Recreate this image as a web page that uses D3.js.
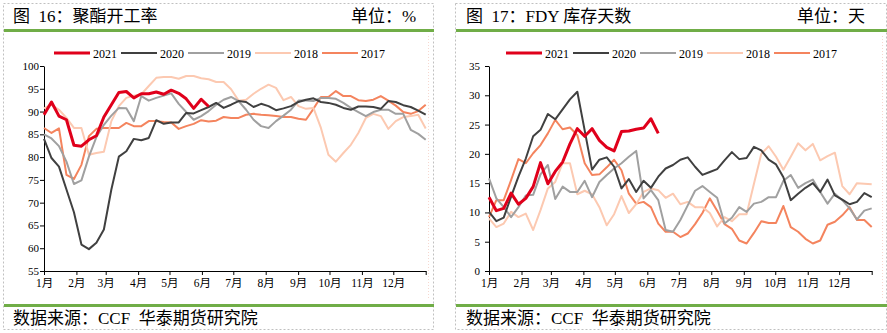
<!DOCTYPE html>
<html>
<head>
<meta charset="utf-8">
<script src="https://cdn.jsdelivr.net/npm/d3@7"></script>
<style>
  body { margin: 0; background: #fff; }
  svg { display: block; }
  text { font-family: "Liberation Serif", "Noto Sans CJK SC", serif; }
</style>
</head>
<body>
<svg width="887" height="333"></svg>
<script>
// Data
var years = ['2021', '2020', '2019', '2018', '2017'];
var monthLabels = ['1月', '2月', '3月', '4月', '5月', '6月', '7月', '8月', '9月', '10月', '11月', '12月'];

// 聚酯开工率 (%), weekly
var rate2021 = [89.3, 92.1, 89.0, 88.2, 82.6, 82.4, 83.8, 84.7, 88.8, 91.5, 94.2, 94.4, 93.0, 93.9, 93.9, 94.3, 93.8, 94.7, 94.0, 92.8, 90.7, 92.7, 91.1];
var rate2020 = [84.0, 79.8, 77.9, 72.9, 67.9, 60.8, 59.8, 61.2, 64.1, 72.9, 80.1, 81.3, 84.0, 83.7, 84.2, 88.1, 87.3, 87.6, 87.6, 89.7, 89.6, 90.3, 91.0, 91.9, 90.8, 91.5, 92.3, 92.1, 91.0, 91.7, 91.2, 90.3, 90.7, 91.2, 92.1, 92.6, 92.9, 92.1, 91.9, 91.5, 90.8, 90.4, 91.1, 91.1, 91.0, 90.6, 92.3, 92.1, 91.4, 91.0, 90.2, 89.3];
var rate2019 = [85.0, 84.1, 82.4, 79.0, 74.1, 74.9, 80.1, 84.4, 87.1, 89.1, 90.8, 90.7, 87.9, 93.4, 92.4, 93.0, 93.5, 94.0, 91.7, 89.9, 88.2, 89.0, 90.1, 91.5, 92.6, 93.2, 92.3, 90.4, 88.2, 86.8, 86.4, 87.9, 89.1, 90.4, 92.4, 92.4, 92.3, 93.0, 93.0, 92.8, 91.9, 90.8, 89.9, 89.0, 89.9, 90.4, 90.4, 89.5, 89.5, 86.0, 85.1, 83.8];
var rate2018 = [90.7, 91.5, 90.4, 88.6, 86.4, 86.4, 80.5, 80.9, 81.2, 87.9, 91.2, 93.0, 93.5, 93.8, 95.6, 97.4, 97.6, 97.6, 97.2, 97.8, 97.8, 97.3, 97.1, 96.5, 96.5, 94.9, 92.4, 92.6, 93.9, 95.0, 95.9, 95.2, 92.5, 93.2, 91.2, 90.6, 90.8, 86.4, 80.5, 79.0, 80.9, 82.7, 85.3, 88.6, 89.5, 89.0, 86.2, 87.9, 88.8, 89.0, 89.3, 86.3];
var rate2017 = [86.4, 85.3, 86.3, 76.1, 75.2, 78.3, 84.6, 86.2, 86.4, 86.4, 86.4, 87.5, 86.8, 86.8, 87.9, 87.9, 87.7, 87.6, 86.2, 86.8, 87.3, 88.1, 87.8, 88.0, 88.8, 88.6, 88.6, 89.3, 89.5, 89.3, 89.2, 89.0, 88.8, 88.8, 88.4, 88.2, 90.6, 93.2, 93.2, 94.5, 93.4, 93.4, 92.5, 92.3, 92.6, 93.4, 92.4, 91.3, 89.9, 89.5, 90.1, 91.5];
var rateTicks = [55, 60, 65, 70, 75, 80, 85, 90, 95, 100];

// FDY 库存天数 (天), weekly
var fdy2021 = [12.6, 10.3, 10.7, 13.3, 11.4, 12.4, 14.4, 18.5, 14.9, 17.0, 18.6, 21.7, 24.3, 23.0, 24.3, 22.3, 21.1, 20.5, 23.8, 23.9, 24.2, 24.4, 26.0, 23.5];
var fdy2020 = [10.1, 8.5, 9.1, 12.7, 16.1, 19.2, 23.0, 24.1, 26.8, 25.9, 27.6, 29.3, 30.6, 24.0, 17.3, 19.0, 19.4, 17.8, 14.1, 15.7, 13.5, 15.4, 14.2, 16.1, 17.5, 18.1, 19.0, 19.4, 17.8, 16.4, 16.9, 17.4, 18.9, 20.3, 19.1, 19.3, 21.2, 20.6, 19.0, 18.2, 16.0, 12.1, 13.2, 14.2, 15.0, 13.5, 15.6, 12.9, 12.2, 11.4, 11.8, 13.3, 12.6];
var fdy2019 = [15.8, 12.4, 10.9, 9.2, 10.9, 12.9, 13.0, 16.5, 18.1, 12.3, 14.4, 13.5, 13.5, 15.4, 12.6, 15.2, 16.4, 17.5, 18.4, 19.5, 20.5, 12.4, 13.8, 12.1, 7.0, 6.7, 8.7, 11.2, 13.7, 14.5, 13.5, 12.5, 8.1, 9.1, 10.9, 10.1, 11.5, 11.8, 12.6, 12.6, 15.4, 16.4, 14.2, 15.0, 15.6, 13.5, 11.5, 13.2, 12.1, 10.7, 8.8, 10.3, 10.7];
var fdy2018 = [9.0, 7.5, 8.1, 10.1, 9.2, 9.8, 7.0, 10.4, 14.1, 15.2, 18.4, 18.4, 13.1, 13.7, 13.1, 10.9, 7.8, 9.7, 12.8, 9.9, 11.4, 13.5, 14.1, 13.8, 12.5, 13.2, 11.4, 11.8, 10.9, 10.9, 9.9, 7.6, 9.2, 8.5, 9.7, 9.7, 14.9, 20.0, 21.3, 19.5, 17.3, 19.5, 21.8, 20.6, 21.7, 18.9, 19.6, 20.2, 14.5, 13.1, 15.0, 14.9, 14.8];
var fdy2017 = [9.2, 12.1, 12.1, 15.5, 19.1, 18.4, 20.1, 21.5, 23.5, 25.8, 24.2, 24.5, 23.2, 18.4, 16.4, 16.5, 17.7, 19.0, 17.2, 13.2, 11.5, 11.8, 10.9, 8.1, 6.7, 6.7, 5.8, 6.4, 8.0, 9.9, 12.4, 10.3, 8.0, 7.2, 5.2, 4.7, 6.5, 8.5, 8.2, 8.2, 11.1, 7.5, 6.7, 5.5, 4.7, 5.2, 7.9, 8.4, 9.5, 10.9, 8.7, 8.7, 7.5];
var fdyTicks = [0, 5, 10, 15, 20, 25, 30, 35];

// Styles
var colors = ['#e0001b', '#404040', '#a0a0a0', '#fcc9b1', '#f4845e'];
var widths = [3, 2, 2, 2, 2];
var green = '#70ad47';

var svg = d3.select('svg');
var yearStart = new Date(2019, 0, 1);
var yearEnd = new Date(2020, 0, 1);

function drawPanel(cfg) {
  var g = svg.append('g');

  // frame
  g.append('rect')
    .attr('x', cfg.frame[0] + 0.5).attr('y', 3.5)
    .attr('width', cfg.frame[1] - cfg.frame[0]).attr('height', 326)
    .attr('fill', 'none').attr('stroke', '#c0c0c0')
    .attr('stroke-dasharray', '2,2');
  g.append('line')
    .attr('x1', cfg.plotBorder).attr('x2', cfg.plotBorder)
    .attr('y1', 36).attr('y2', 300)
    .attr('stroke', '#f6d8d0').attr('stroke-dasharray', '1,2');

  // title bar and footer
  g.append('rect').attr('x', cfg.frame[0] + 1).attr('y', 29)
    .attr('width', cfg.frame[1] - cfg.frame[0]).attr('height', 3).attr('fill', green);
  g.append('rect').attr('x', cfg.frame[0] + 1).attr('y', 304)
    .attr('width', cfg.frame[1] - cfg.frame[0]).attr('height', 3).attr('fill', green);
  g.append('text').attr('x', cfg.titleX).attr('y', 22)
    .style('white-space', 'pre').attr('font-size', 17).text(cfg.title);
  g.append('text').attr('x', cfg.unitX).attr('y', 22)
    .attr('font-size', 17).text(cfg.unit);
  g.append('text').attr('x', cfg.titleX).attr('y', 324)
    .style('white-space', 'pre').attr('font-size', 17).text('数据来源：CCF  华泰期货研究院');

  var x = d3.scaleTime().domain([yearStart, yearEnd]).range(cfg.xRange);
  var y = d3.scaleLinear().domain(cfg.yDomain).range([271, 66]);
  var step = 365 / (cfg.weeks - 1) * 864e5;

  var line = d3.line()
    .x(function (d, i) { return x(new Date(yearStart.getTime() + i * step)); })
    .y(function (d) { return y(d); });

  // axes
  var xAxis = g.append('g')
    .attr('transform', 'translate(0,271)')
    .call(d3.axisBottom(x)
      .tickValues(d3.timeMonth.range(yearStart, new Date(2020, 0, 2)))
      .tickFormat(function (d, i) { return i < 12 ? monthLabels[i] : ''; })
      .tickSize(4).tickSizeOuter(0).tickPadding(4));
  xAxis.selectAll('text').attr('font-size', 11.5).attr('fill', '#000')
    .style('font-family', '"Liberation Serif", "Noto Sans CJK SC", serif');
  xAxis.selectAll('line, path').attr('stroke', '#000');

  var yAxis = g.append('g')
    .attr('transform', 'translate(' + cfg.xRange[0] + ',0)')
    .call(d3.axisLeft(y).tickValues(cfg.ticks)
      .tickSize(4).tickSizeOuter(0).tickPadding(cfg.yPad));
  yAxis.selectAll('text').attr('font-size', 11).attr('fill', '#000')
    .style('font-family', '"Liberation Serif", serif');
  yAxis.selectAll('line, path').attr('stroke', '#000');

  // series: 2017 first, 2021 on top
  for (var k = cfg.series.length - 1; k >= 0; k--) {
    g.append('path')
      .datum(cfg.series[k])
      .attr('fill', 'none')
      .attr('stroke', colors[k])
      .attr('stroke-width', widths[k])
      .attr('stroke-linejoin', 'round')
      .attr('d', line);
  }

  // legend
  var leg = g.selectAll('.leg').data(years).enter().append('g')
    .attr('transform', function (d, i) { return 'translate(' + (cfg.legendX + i * 67) + ',53)'; });
  leg.append('line').attr('x1', 0).attr('x2', 36)
    .attr('stroke', function (d, i) { return colors[i]; })
    .attr('stroke-width', function (d, i) { return widths[i]; });
  leg.append('text').attr('x', 39).attr('y', 4.5)
    .attr('font-size', 12).text(function (d) { return d; });
}

drawPanel({
  frame: [3, 433], plotBorder: 428.5,
  title: '图  16：聚酯开工率', unit: '单位：%', titleX: 13, unitX: 351,
  xRange: [44, 425.7], yDomain: [55, 100], ticks: rateTicks, yPad: 1,
  weeks: 52, legendX: 54,
  series: [rate2021, rate2020, rate2019, rate2018, rate2017]
});

drawPanel({
  frame: [455, 886], plotBorder: 882.5,
  title: '图  17：FDY 库存天数', unit: '单位：天', titleX: 466, unitX: 797,
  xRange: [489, 871.7], yDomain: [0, 35], ticks: fdyTicks, yPad: 5,
  weeks: 53, legendX: 506,
  series: [fdy2021, fdy2020, fdy2019, fdy2018, fdy2017]
});
</script>
</body>
</html>
